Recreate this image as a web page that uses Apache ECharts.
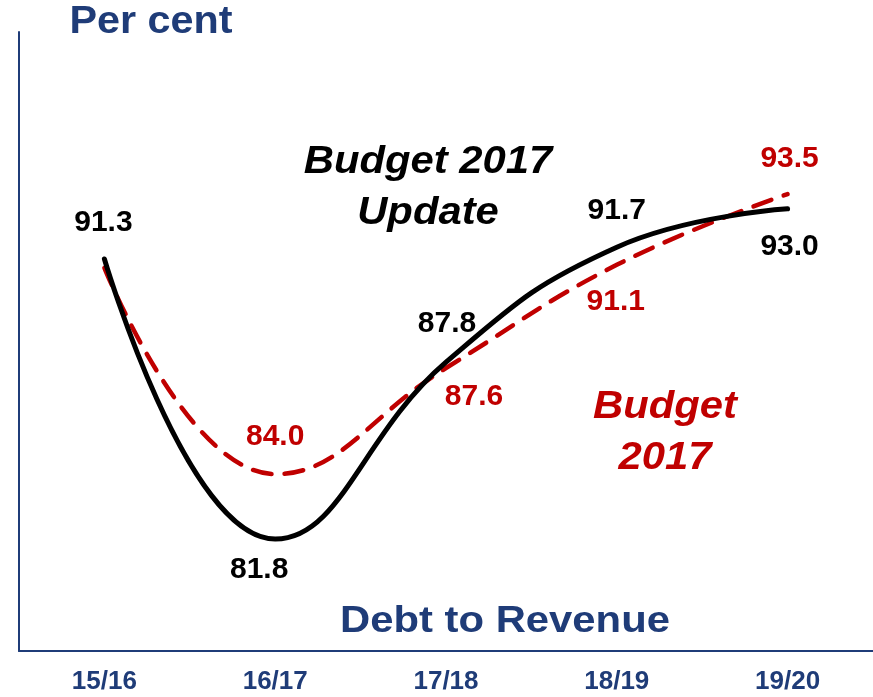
<!DOCTYPE html>
<html>
<head>
<meta charset="utf-8">
<script src="https://cdn.jsdelivr.net/npm/echarts@6/dist/echarts.min.js"></script>
<style>
  html, body { margin: 0; padding: 0; background: #fff; }
  #main { width: 873px; height: 697px; }
</style>
</head>
<body>
<div id="main"></div>
<script>
var myChart = echarts.init(document.getElementById('main'));

// data
var years = ['15/16', '16/17', '17/18', '18/19', '19/20'];
var update2017 = [91.3, 81.8, 87.8, 91.7, 93.0];
var budget2017 = [91.0, 84.0, 87.6, 91.1, 93.5];

// where each value label sits relative to its point (null = no label)
var updateLabelOffset = [[-1, -36], [-16, 31], [1, -38], [0, -36], [2, 38]];
var budgetLabelOffset = [null, [0, -37], [28, 29], [-1, 37], [2, -35]];

var navy = '#1f3c78';
var red = '#c00000';
var font = '"Liberation Sans", Arial, sans-serif';

function withLabels(values, offsets, color) {
    return values.map(function (v, i) {
        var off = offsets[i];
        return {
            value: v,
            label: off ? {
                show: true,
                position: 'inside',
                offset: off,
                color: color,
                fontSize: 30,
                fontWeight: 'bold',
                fontFamily: font,
                formatter: function (p) { return p.value.toFixed(1); }
            } : { show: false }
        };
    });
}

var option = {
    backgroundColor: '#fff',
    animation: false,
    grid: {
        left: 19,
        top: 32,
        width: 859,
        bottom: 46
    },
    xAxis: {
        type: 'category',
        data: years,
        boundaryGap: true,
        axisLine: { lineStyle: { color: navy, width: 2 } },
        axisTick: { show: false },
        axisLabel: {
            margin: 18,
            color: navy,
            fontSize: 26,
            fontWeight: 'bold',
            fontFamily: '"Liberation Sans Narrow", "Arial Narrow", ' + font
        }
    },
    yAxis: {
        type: 'value',
        min: 78,
        max: 99,
        axisLine: { show: true, lineStyle: { color: navy, width: 2 } },
        axisTick: { show: false },
        axisLabel: { show: false },
        splitLine: { show: false }
    },
    series: [
        {
            name: 'Budget 2017',
            type: 'line',
            smooth: 0.45,
            symbol: 'circle',
            symbolSize: 0,
            lineStyle: { color: red, width: 4.5, type: [19, 13], cap: 'round' },
            itemStyle: { color: red },
            data: withLabels(budget2017, budgetLabelOffset, red),
            z: 2
        },
        {
            name: 'Budget 2017 Update',
            type: 'line',
            smooth: 0.45,
            symbol: 'circle',
            symbolSize: 0,
            lineStyle: { color: '#000', width: 5, cap: 'round' },
            itemStyle: { color: '#000' },
            data: withLabels(update2017, updateLabelOffset, '#000'),
            z: 3
        }
    ],
    graphic: [
        {
            type: 'text', x: 151, y: 22, scaleX: 1.06,
            style: { text: 'Per cent', fill: navy, font: 'bold 39px ' + font,
                     textAlign: 'center', textVerticalAlign: 'middle' }
        },
        {
            type: 'text', x: 505, y: 622, scaleX: 1.13,
            style: { text: 'Debt to Revenue', fill: navy, font: 'bold 37px ' + font,
                     textAlign: 'center', textVerticalAlign: 'middle' }
        },
        {
            type: 'text', x: 428, y: 188, scaleX: 1.1,
            style: { text: 'Budget 2017\nUpdate', fill: '#000', font: 'italic bold 38px ' + font,
                     textAlign: 'center', textVerticalAlign: 'middle', lineHeight: 51 }
        },
        {
            type: 'text', x: 665, y: 433, scaleX: 1.1,
            style: { text: 'Budget\n2017', fill: red, font: 'italic bold 38px ' + font,
                     textAlign: 'center', textVerticalAlign: 'middle', lineHeight: 51 }
        }
    ]
};

myChart.setOption(option);
</script>
</body>
</html>
